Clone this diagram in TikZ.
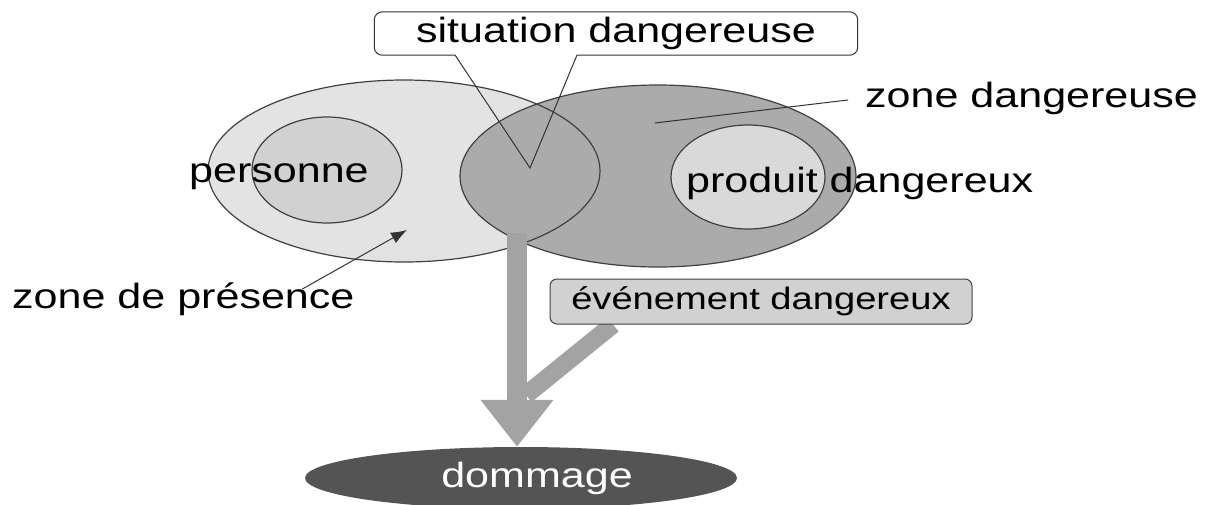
\documentclass[tikz,border=0pt]{standalone}
\usepackage{fontspec}
\setmainfont{Liberation Sans}[FakeStretch=1.23]
\usetikzlibrary{arrows.meta,shapes.geometric}
\pgfdeclarelayer{front}
\pgfsetlayers{main,front}

\begin{document}
\begin{tikzpicture}[x=1pt,y=-1pt,
  lbl/.style={inner sep=0, anchor=base west, font=\fontsize{35}{40}\selectfont},
  outl/.style={draw=black!75, line width=1.2pt},
  thinl/.style={draw=black!80, line width=1pt},
  bigarr/.style={draw=black!36, line width=20pt}]
\clip (0,0) rectangle (1210,504);
\fill[black!11] (404,171) ellipse [x radius=196, y radius=91];
\fill[black!33] (658,176) ellipse [x radius=198, y radius=91];
\draw[outl] (404,171) ellipse [x radius=196, y radius=91];
\draw[outl] (658,176) ellipse [x radius=198, y radius=91];
\filldraw[outl, fill=black!18] (327,170) ellipse [x radius=75, y radius=53];
\filldraw[outl, fill=black!15] (748,177) ellipse [x radius=77, y radius=52];

\node[lbl] (pers) at (189,182) {personne};
\node[lbl] (prod) at (686,192) {produit dangereux};
\node[lbl] (zd) at (865,107) {zone dangereuse};
\node[lbl] (zp) at (12,308) {zone de présence};

\node[inner sep=0, minimum width=483, minimum height=43, font=\fontsize{35}{40}\selectfont] (sit) at (616,33.5) {situation dangereuse};
\coordinate (sitL) at (455,55);
\coordinate (sitR) at (577,55);
\coordinate (sitpt) at (530,168);
\draw[thinl] (sitL) [rounded corners=8pt] -- (sit.south west) -- (sit.north west) -- (sit.north east) -- (sit.south east) -- ([xshift=-20pt]sit.south east) [sharp corners] -- (sitR) -- (sitpt) -- cycle;

\coordinate (zdpt) at (655,123);
\draw[thinl, shorten <=17pt] (zd.west) -- (zdpt);
\coordinate (zppt) at (407,230);
\draw[thinl, -{Latex[length=16pt,width=12pt]}] ([shift={(119,7)}]zp.north) -- (zppt);

\begin{pgfonlayer}{front}
\node[ellipse, fill=black!67, minimum width=432, minimum height=62, inner sep=0, text=white, font=\fontsize{35}{40}\selectfont] (dom) at (521,478) {\hspace*{32pt}dommage};
\node[draw=black!75, line width=1pt, fill=black!18, rounded corners=7pt, minimum width=422, minimum height=45, inner sep=0, font=\fontsize{31}{36}\selectfont] (ev) at (761,301.5) {événement dangereux};
\end{pgfonlayer}
\coordinate (ovl) at (517,233);
\coordinate (mrg) at (526,395);
\draw[bigarr, -{Triangle[length=47pt,width=70pt]}] (ovl) -- (ovl |- dom.north);
\draw[bigarr, line width=18pt] ([xshift=-148pt]ev.south) -- (mrg);
\end{tikzpicture}
\end{document}
